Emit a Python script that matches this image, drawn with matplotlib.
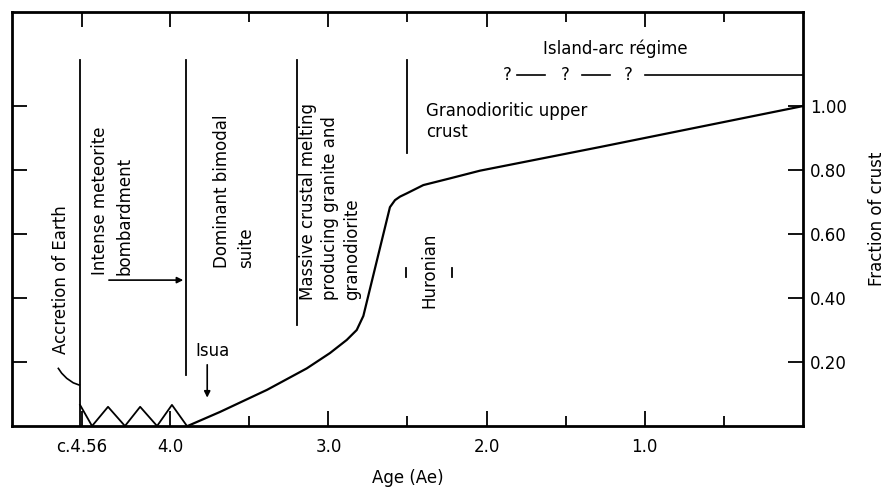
import matplotlib
matplotlib.use('Agg')
import matplotlib.pyplot as plt
import numpy as np

matplotlib.rcParams.update({'font.size': 12, 'font.family': 'DejaVu Sans'})

# crustal growth curve (age in Ae, fraction of crust)
curve_age = [3.89, 3.685, 3.388, 3.137, 2.99, 2.884, 2.821, 2.779, 2.611, 2.579,
             2.547, 2.505, 2.40, 2.231, 2.042, 1.283, 0.0]
curve_frac = [0.0, 0.044, 0.113, 0.180, 0.228, 0.269, 0.300, 0.344, 0.684, 0.706,
              0.717, 0.727, 0.753, 0.774, 0.798, 0.872, 1.0]

# meteorite bombardment zig-zag
zig_age = [4.57, 4.494, 4.393, 4.286, 4.19, 4.083, 3.989, 3.894]
zig_frac = [0.066, 0.0, 0.06, 0.0, 0.06, 0.0, 0.066, 0.0]

# hook from "Accretion of Earth" label to its line
hook_age = [4.707, 4.686, 4.654, 4.613, 4.575]
hook_frac = [0.180, 0.165, 0.149, 0.135, 0.128]

# vertical boundary lines: age, bottom, top
bound_age = [4.57, 3.9, 3.2, 2.5]
bound_bot = [0.0, 0.159, 0.316, 0.853]
bound_top = [1.144, 1.144, 1.144, 1.144]

# island-arc regime dashes
dash_start = [1.81, 1.40, 1.0]
dash_end = [1.63, 1.22, 0.0]
qmark_age = [1.873, 1.506, 1.108]
regime_frac = 1.097

huronian_age = [2.51, 2.22]

x_major = [4.56, 4.0, 3.0, 2.0, 1.0]
x_major_labels = ['c.4.56', '4.0', '3.0', '2.0', '1.0']
x_minor = [3.5, 2.5, 1.5, 0.5]
y_ticks = [0.2, 0.4, 0.6, 0.8, 1.0]
y_labels = ['0.20', '0.40', '0.60', '0.80', '1.00']

fig = plt.figure(figsize=(8.87, 4.92), dpi=100)
ax = fig.add_axes([12/887, 1-426/492, 791/887, 414/492])

ax.plot(curve_age, curve_frac, color='k', lw=1.6)
ax.plot(zig_age, zig_frac, color='k', lw=1.3)
ax.plot(hook_age, hook_frac, color='k', lw=1.2)
for a, b, t in zip(bound_age, bound_bot, bound_top):
    ax.plot([a, a], [b, t], color='k', lw=1.3)
for s, e in zip(dash_start, dash_end):
    ax.plot([s, e], [regime_frac, regime_frac], color='k', lw=1.2)
for a in qmark_age:
    ax.text(a, regime_frac, '?', ha='center', va='center')
for a in huronian_age:
    ax.plot([a, a], [0.466, 0.494], color='k', lw=1.3)

# arrows
ax.annotate('', xy=(3.9, 0.456), xytext=(4.405, 0.456),
            arrowprops=dict(arrowstyle='-|>', color='k', lw=1.2, mutation_scale=9))
ax.annotate('', xy=(3.766, 0.08), xytext=(3.766, 0.2),
            arrowprops=dict(arrowstyle='-|>', color='k', lw=1.2, mutation_scale=9))

# annotations
ax.text(4.69, 0.456, 'Accretion of Earth', rotation=90, ha='center', va='center')
ax.text(4.367, 0.472, 'Intense meteorite\nbombardment', rotation=90, ha='center',
        va='bottom', multialignment='left', linespacing=1.45)
ax.text(3.598, 0.494, 'Dominant bimodal\nsuite', rotation=90, ha='center',
        va='bottom', multialignment='left', linespacing=1.45)
ax.text(2.99, 0.394, 'Massive crustal melting\nproducing granite and\ngranodiorite',
        rotation=90, ha='center', va='bottom', multialignment='left', linespacing=1.3)
ax.text(2.361, 0.4875, 'Huronian', rotation=90, ha='center', va='center')
ax.text(2.38, 1.0125, 'Granodioritic upper\ncrust', ha='left', va='top', linespacing=1.2)
ax.text(1.184, 1.178, 'Island-arc régime', ha='center', va='center')
ax.text(3.734, 0.234, 'Isua', ha='center', va='center')

ax.set_xlim(5.0, 0.0)
ax.set_ylim(0, 1.294)
ax.set_xticks(x_major)
ax.set_xticklabels(x_major_labels)
ax.set_xticks(x_minor, minor=True)
ax.set_yticks(y_ticks)
ax.set_yticklabels(y_labels)

ax.tick_params(axis='x', which='both', direction='in', top=True, bottom=True, width=1.3)
ax.tick_params(axis='x', which='major', length=11, pad=9)
ax.tick_params(axis='x', which='minor', length=7)
ax.tick_params(axis='y', which='both', direction='in', left=True, right=True,
               labelleft=False, labelright=True, length=11, width=1.3, pad=5)
for sp in ax.spines.values():
    sp.set_linewidth(2)

ax.set_xlabel('Age (Ae)', labelpad=9)
ax.yaxis.set_label_position('right')
ax.set_ylabel('Fraction of crust', labelpad=15)

fig.savefig('out.png', dpi=100)
